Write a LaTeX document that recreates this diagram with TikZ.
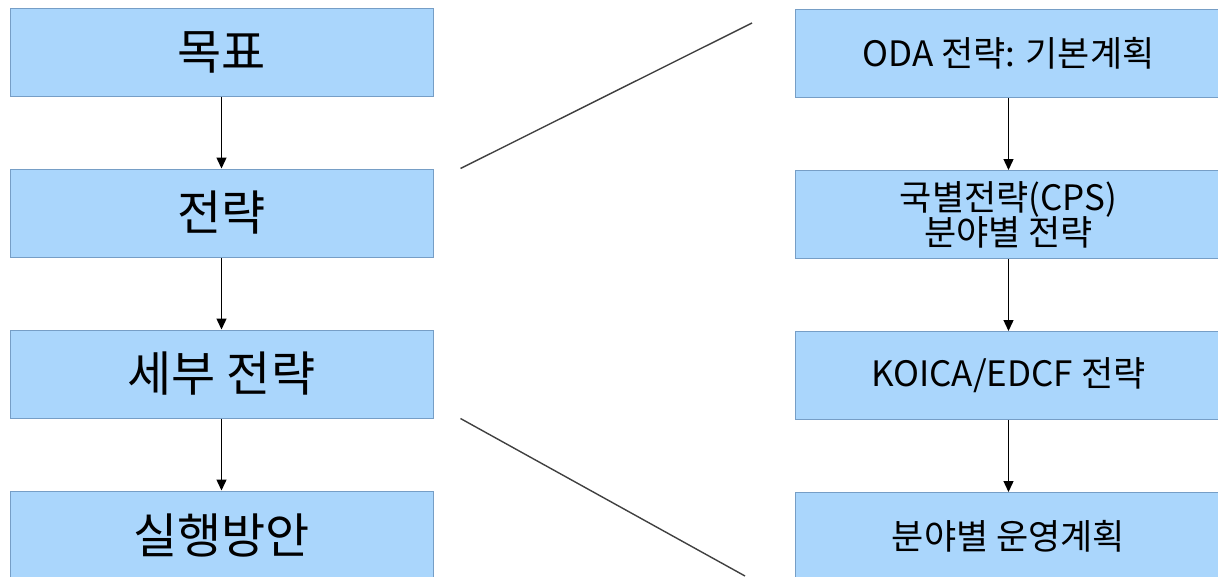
\documentclass[tikz,border=0pt]{standalone}
\usepackage{fontspec}
\setmainfont{Noto Sans CJK KR}
\usepackage{tikz}
\usetikzlibrary{arrows.meta,positioning}
\definecolor{boxfill}{RGB}{170,214,252}
\definecolor{boxline}{RGB}{118,158,198}
\tikzset{
  stage/.style={draw=boxline,fill=boxfill,line width=1pt,minimum width=423pt,
    minimum height=88pt,inner sep=0pt,font=\fontsize{48}{54}\selectfont},
  plan/.style={stage,minimum width=427pt,align=center,
    font=\fontsize{35}{38}\selectfont},
  zoomline/.style={line width=1.4pt,black!75}
}
\tikzstyle{arrow} = [line width=1.4pt,->,>={Triangle[length=11pt,width=10pt]}]

\begin{document}
\begin{tikzpicture}[x=1pt,y=1pt,node distance=72pt]
  % Page window
  \path[use as bounding box,clip] (0,0) rectangle (1218,-576);

  % Left column
  \node[stage] (goal) at (221.5,-52) {목표};
  \node[stage,below=of goal] (strat) {전략};
  \node[stage,below=of strat] (detail) {세부 전략};
  \node[stage,below=of detail] (action) {실행방안};

  % Right column
  \node[plan] (oda) at (1008.5,-53.5) {ODA 전략: 기본계획};
  \node[plan,below=of oda] (cps) {국별전략(CPS)\\[-3pt]분야별 전략};
  \node[plan,below=of cps] (koica) {KOICA/EDCF 전략};
  \node[plan,below=of koica] (oper) {분야별 운영계획};

  % Arrows
  \draw[arrow] (goal) -- (strat);
  \draw[arrow] (strat) -- (detail);
  \draw[arrow] (detail) -- (action);
  \draw[arrow] (oda) -- (cps);
  \draw[arrow] (cps) -- (koica);
  \draw[arrow] (koica) -- (oper);

  % Zoom lines
  \coordinate (zoomtop) at (752,-23);
  \coordinate (zoombot) at (745,-576);
  \draw[zoomline] ([xshift=27pt]strat.north east) -- (zoomtop);
  \draw[zoomline] ([xshift=27pt]detail.south east) -- (zoombot);
\end{tikzpicture}
\end{document}
